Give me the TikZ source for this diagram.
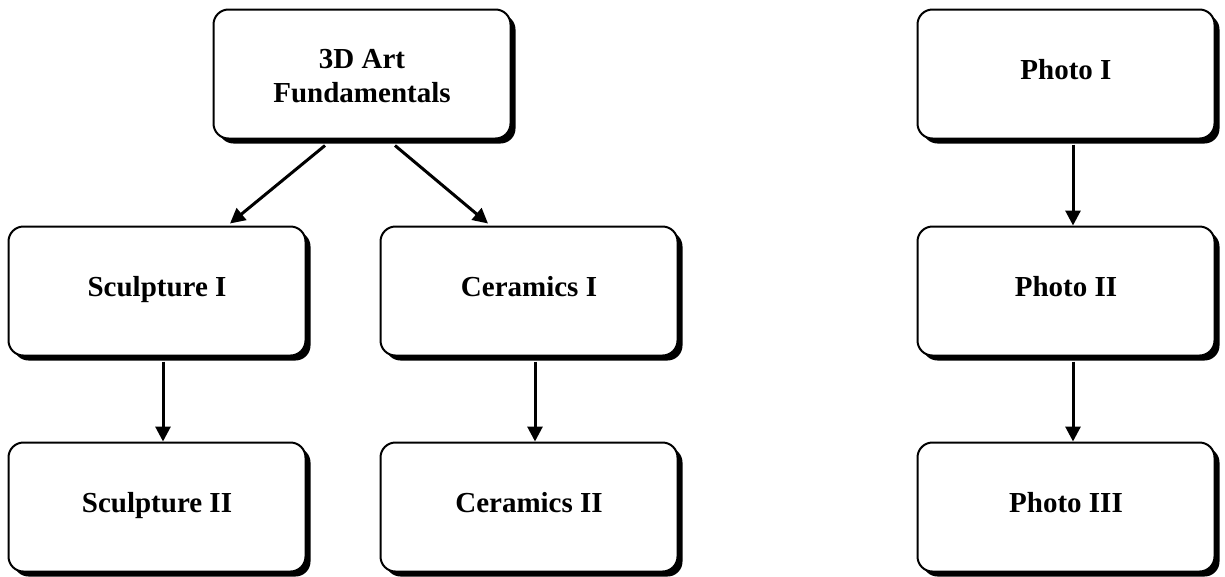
\documentclass[tikz,border=0pt]{standalone}
\usepackage{fontspec}
\setmainfont{Liberation Serif}
\usetikzlibrary{shadows,arrows.meta}
\begin{document}
\begin{tikzpicture}[x=1pt,y=-1pt,
  course/.style={draw=black, line width=2pt, rounded corners=15pt, fill=white,
    minimum width=297pt, minimum height=129pt, align=center,
    font=\fontsize{29}{34}\selectfont\bfseries, inner sep=0pt,
    text height=20pt, text depth=9pt,
    drop shadow={shadow xshift=5pt, shadow yshift=-5pt, fill=black, opacity=1}},
  arr/.style={line width=3pt, -{Triangle[length=15pt,width=15pt]}}]
\useasboundingbox (0,0) rectangle (1225,576);
\node[course, text height=64pt, text depth=8pt] (art) at (362,74) {3D Art\\Fundamentals};
\node[course] (s1) at (157,291) {Sculpture I};
\node[course] (c1) at (529,291) {Ceramics I};
\node[course] (s2) at (157,507) {Sculpture II};
\node[course] (c2) at (529,507) {Ceramics II};
\node[course] (p1) at (1066,74) {Photo I};
\node[course] (p2) at (1066,291) {Photo II};
\node[course] (p3) at (1066,507) {Photo III};
\draw[arr] ([xshift=-37pt,yshift=-6pt]art.south) -- ([xshift=73pt,yshift=2pt]s1.north);
\draw[arr] ([xshift=33pt,yshift=-6pt]art.south) -- ([xshift=-41pt,yshift=2pt]c1.north);
\draw[arr] ([xshift=6pt,yshift=-5pt]s1.south) -- ([xshift=6pt]s2.north);
\draw[arr] ([xshift=6pt,yshift=-5pt]c1.south) -- ([xshift=6pt]c2.north);
\draw[arr] ([xshift=7pt,yshift=-5pt]p1.south) -- ([xshift=7pt]p2.north);
\draw[arr] ([xshift=7pt,yshift=-5pt]p2.south) -- ([xshift=7pt]p3.north);
\end{tikzpicture}
\end{document}
